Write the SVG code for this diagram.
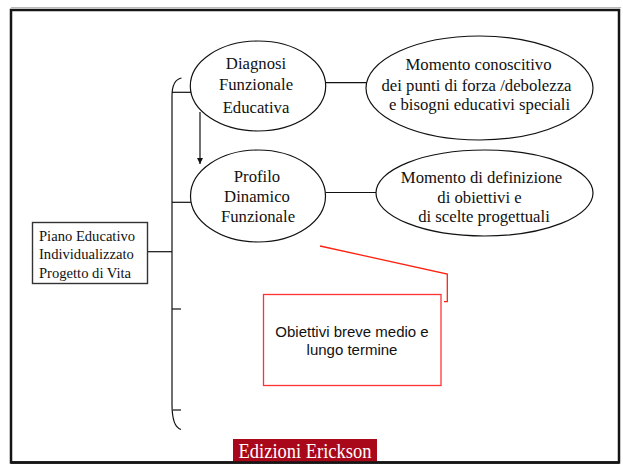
<svg xmlns="http://www.w3.org/2000/svg" width="623" height="464" viewBox="0 0 623 464">
<defs>
<style>
.ser{font-family:"Liberation Serif","Times New Roman",serif;fill:#111;text-anchor:middle;font-size:16.7px}
.ell{fill:#fff;stroke:#111;stroke-width:1.2}
.ln{stroke:#111;stroke-width:1.2;fill:none}
.red{stroke:#f21;stroke-width:1.3;fill:none}
</style>
<marker id="ah" viewBox="0 0 10 10" refX="10" refY="5" markerWidth="6" markerHeight="6" orient="auto" markerUnits="userSpaceOnUse"><path d="M0,0 L10,5 L0,10 z" fill="#111"/></marker>
</defs>
<rect x="0" y="0" width="623" height="464" fill="#fff"/>
<line x1="11" y1="7.5" x2="621" y2="7.5" stroke="#bbb" stroke-width="1"/>
<rect x="11" y="10" width="608" height="452.5" fill="#fff" stroke="#151515" stroke-width="2.5"/>

<g id="connectors">
<path class="ln" d="M181.5,78 Q172,80 172,96 L172,404 Q172,427 181,429.5"/>
<line class="ln" x1="172" y1="92.3" x2="191" y2="92.3"/>
<line class="ln" x1="172" y1="202.3" x2="191" y2="202.3"/>
<line class="ln" x1="172" y1="309" x2="181" y2="309"/>
<line class="ln" x1="173" y1="410" x2="181" y2="410"/>
<line class="ln" x1="148" y1="251.7" x2="172" y2="251.7"/>
<line class="ln" x1="325.5" y1="82.7" x2="366.5" y2="82.7"/>
<line class="ln" x1="325.5" y1="192.5" x2="376" y2="192.5"/>
<line class="ln" x1="200" y1="112" x2="200" y2="164" marker-end="url(#ah)"/>
<polyline class="red" points="320,246 447.3,274 447.3,301.7 444,301.7"/>
</g>

<g id="pei">
<rect x="32.5" y="222.5" width="115" height="61" fill="#fff" stroke="#333" stroke-width="1.4"/>
<text font-family="Liberation Serif, Times New Roman, serif" font-size="14.6" fill="#111">
<tspan x="39" y="241">Piano Educativo</tspan>
<tspan x="39" y="259.3">Individualizzato</tspan>
<tspan x="39" y="277.5">Progetto di Vita</tspan>
</text>
</g>

<g id="diagnosi">
<ellipse class="ell" cx="258" cy="86" rx="67.7" ry="45"/>
<text class="ser"><tspan x="256" y="68.5">Diagnosi</tspan><tspan x="256" y="90">Funzionale</tspan><tspan x="256" y="113">Educativa</tspan></text>
</g>

<g id="momento1">
<ellipse class="ell" cx="479.5" cy="88" rx="113.5" ry="52"/>
<text class="ser"><tspan x="478.5" y="70">Momento conoscitivo</tspan><tspan x="476.5" y="90.5">dei punti di forza /debolezza</tspan><tspan x="479.5" y="110">e bisogni educativi speciali</tspan></text>
</g>

<g id="profilo">
<ellipse class="ell" cx="258" cy="196" rx="67.5" ry="46"/>
<text class="ser"><tspan x="257" y="181.5">Profilo</tspan><tspan x="257" y="201.5">Dinamico</tspan><tspan x="258" y="221.5">Funzionale</tspan></text>
</g>

<g id="momento2">
<ellipse class="ell" cx="484.5" cy="193" rx="108.5" ry="43"/>
<text class="ser"><tspan x="481.5" y="183">Momento di definizione</tspan><tspan x="479.5" y="202.5">di obiettivi e</tspan><tspan x="484" y="222">di scelte progettuali</tspan></text>
</g>

<g id="obiettivi">
<rect x="263.5" y="294.5" width="177.5" height="91" fill="#fff" stroke="#f33" stroke-width="1.3"/>
<text font-family="Liberation Sans, Arial, sans-serif" font-size="15" fill="#111" text-anchor="middle"><tspan x="352" y="336.7">Obiettivi breve medio e</tspan><tspan x="352" y="354.5">lungo termine</tspan></text>
</g>

<g id="logo">
<rect x="233" y="439" width="144" height="23" fill="#a8081a"/>
<text x="305" y="458.3" font-family="Liberation Serif, Times New Roman, serif" font-size="20" fill="#fff" text-anchor="middle" textLength="133" lengthAdjust="spacingAndGlyphs">Edizioni Erickson</text>
</g>
<line x1="11" y1="462.5" x2="619" y2="462.5" stroke="#151515" stroke-width="2.5"/>
</svg>
